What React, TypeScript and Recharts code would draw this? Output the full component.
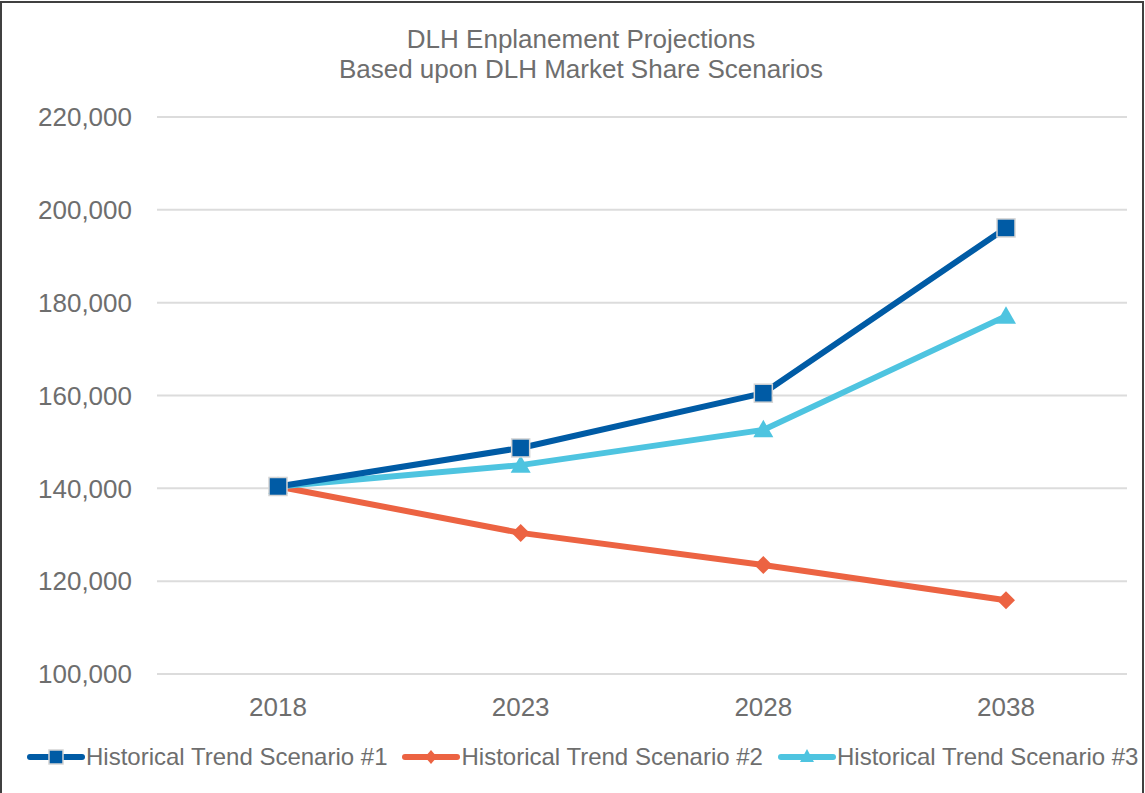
import React from 'react';
import { LineChart, Line, XAxis, YAxis, CartesianGrid, Legend } from 'recharts';

const years = ['2018', '2023', '2028', '2038'];
const scenario1 = [140400, 148700, 160500, 196100];
const scenario2 = [140400, 130400, 123500, 115900];
const scenario3 = [140400, 145000, 152600, 177100];
const yTicks = [100000, 120000, 140000, 160000, 180000, 200000, 220000];
const seriesNames = ['Historical Trend Scenario #1', 'Historical Trend Scenario #2', 'Historical Trend Scenario #3'];
const titleLines = ['DLH Enplanement Projections', 'Based upon DLH Market Share Scenarios'];

const data = years.map((y, i) => ({ year: y, s1: scenario1[i], s2: scenario2[i], s3: scenario3[i] }));

const C1 = '#005BA5';
const C2 = '#EC6342';
const C3 = '#4EC4E0';
const TEXT = '#6e6e6e';
const FONT = 'Arial, "Liberation Sans", sans-serif';

const Square = (props: any) => {
  const { cx, cy, size = 18, key } = props;
  if (cx == null || cy == null) return null;
  return <rect key={key} x={cx - size / 2} y={cy - size / 2} width={size} height={size} fill={C1} stroke="#d4d4d4" strokeWidth={1.5} />;
};
const Diamond = (props: any) => {
  const { cx, cy, size = 9, key } = props;
  if (cx == null || cy == null) return null;
  return <polygon key={key} points={`${cx},${cy - size} ${cx + size},${cy} ${cx},${cy + size} ${cx - size},${cy}`} fill={C2} />;
};
const Triangle = (props: any) => {
  const { cx, cy, size = 10, key } = props;
  if (cx == null || cy == null) return null;
  return <polygon key={key} points={`${cx},${cy - size} ${cx + size},${cy + size * 0.75} ${cx - size},${cy + size * 0.75}`} fill={C3} />;
};

const legendItems = [
  { name: seriesNames[0], color: C1, marker: 'square' },
  { name: seriesNames[1], color: C2, marker: 'diamond' },
  { name: seriesNames[2], color: C3, marker: 'triangle' },
];

const LegendContent = () => (
  <div style={{ display: 'flex', alignItems: 'center', paddingLeft: 27, fontFamily: FONT, fontSize: 24, color: TEXT, height: 40 }}>
    {legendItems.map((it, i) => (
      <div key={i} style={{ display: 'flex', alignItems: 'center', marginRight: i < 2 ? 15 : 0 }}>
        <svg width={58} height={24} style={{ marginRight: 1 }}>
          <line x1={3} y1={12} x2={55} y2={12} stroke={it.color} strokeWidth={6} strokeLinecap="round" />
          {it.marker === 'square' && <rect x={22} y={5} width={14} height={14} fill={C1} stroke="#d4d4d4" strokeWidth={1.5} />}
          {it.marker === 'diamond' && <polygon points="29,5 35,12 29,19 23,12" fill={C2} />}
          {it.marker === 'triangle' && <polygon points="29,4 36,17 22,17" fill={C3} />}
        </svg>
        <span style={{ whiteSpace: 'nowrap' }}>{it.name}</span>
      </div>
    ))}
  </div>
);

export default function App() {
  return (
    <div style={{ position: 'absolute', left: 0, top: 0, width: 1145, height: 793, background: '#fff', overflow: 'hidden' }}>
      <div style={{ position: 'absolute', left: 0, top: 1, width: 1144, height: 800, border: '2px solid #404040', boxSizing: 'border-box' }} />
      <div style={{ position: 'absolute', left: 0, top: 24, width: 1162, textAlign: 'center', fontFamily: FONT, fontSize: 26, color: TEXT, lineHeight: '30px' }}>
        {titleLines.map((t, i) => <div key={i}>{t}</div>)}
      </div>
      <LineChart width={1145} height={793} data={data} margin={{ top: 117, right: 18, left: 0, bottom: 39 }}>
        <CartesianGrid vertical={false} stroke="#dcdcdc" strokeWidth={2} />
        <XAxis dataKey="year" axisLine={false} tickLine={false} tickSize={0} tickMargin={24} height={40}
          padding={{ left: 121, right: 121 }}
          tick={{ fill: TEXT, fontSize: 26, fontFamily: FONT }} />
        <YAxis domain={[100000, 220000]} ticks={yTicks} interval={0} axisLine={false} tickLine={false} tickSize={0} tickMargin={25} width={157}
          tickFormatter={(v: number) => v.toLocaleString('en-US')}
          tick={{ fill: TEXT, fontSize: 26, fontFamily: FONT }} />
        <Legend verticalAlign="bottom" content={<LegendContent />} wrapperStyle={{ top: 737, left: 0, width: 1145, height: 40 }} />
        <Line dataKey="s2" name={seriesNames[1]} stroke={C2} strokeWidth={6} dot={<Diamond />} activeDot={false} isAnimationActive={false} />
        <Line dataKey="s3" name={seriesNames[2]} stroke={C3} strokeWidth={6} dot={<Triangle />} activeDot={false} isAnimationActive={false} />
        <Line dataKey="s1" name={seriesNames[0]} stroke={C1} strokeWidth={6} dot={<Square />} activeDot={false} isAnimationActive={false} />
      </LineChart>
    </div>
  );
}
